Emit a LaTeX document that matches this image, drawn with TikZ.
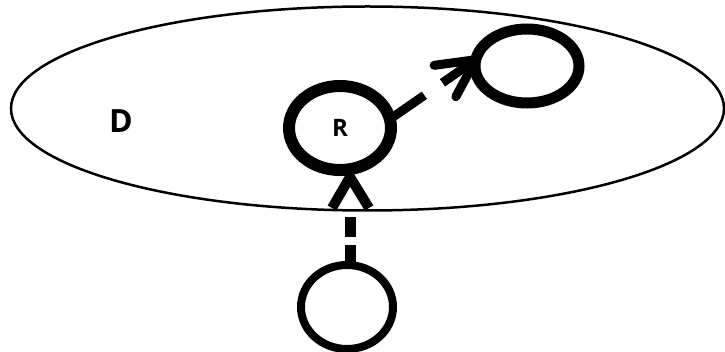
\documentclass[tikz,border=0pt]{standalone}
\usepackage{fontspec}
\setmainfont{Open Sans}
\usetikzlibrary{shapes.geometric,calc}

\begin{document}
\begin{tikzpicture}[x=1pt,y=-1pt,
  ring/.style={ellipse,draw,outer sep=0pt,inner sep=0pt},
  shaft/.style={line cap=butt},
  barbs/.style={line cap=round,line join=miter}]
  \useasboundingbox (0,0) rectangle (725,352);

  % domain boundary
  \node[ring,line width=2.5pt,minimum width=713pt,minimum height=204pt] (D) at (367.5,108.5) {};
  \node[font=\bfseries\fontsize{32}{32}\selectfont] (Dl) at (121,121) {D};

  % rings
  \node[ring,line width=12pt,minimum width=102pt,minimum height=84pt,
        font=\bfseries\fontsize{24}{24}\selectfont] (R) at (340,128) {R};
  \node[ring,line width=11pt,minimum width=104pt,minimum height=74pt] (E) at (527,66) {};
  \node[ring,line width=8pt,minimum width=92pt,minimum height=84pt] (B) at (347,307) {};

  % dashed connector from B up to R
  \coordinate (t1) at ($(R.south)+(10,7)$);
  \coordinate (b1) at ($(t1)+(0,33)$);
  \draw[shaft,line width=11pt,dash pattern=on 20pt off 8pt] (B.north -| t1) -- (b1);
  \draw[line width=10pt,line cap=butt,line join=miter]
    ($(t1)+(-18,31)$) -- (t1) -- ($(t1)+(19,31)$);

  % dashed connector from R to E
  \coordinate (s2) at (R.10);
  \coordinate (t2) at (E.173);
  \draw[shaft,line width=9pt,dash pattern=on 42pt off 22pt] (s2) -- (t2);
  \draw[barbs,line width=9pt]
    ($(t2)!42pt!27:(s2)$) -- (t2) -- ($(t2)!42pt!-27:(s2)$);
\end{tikzpicture}
\end{document}
